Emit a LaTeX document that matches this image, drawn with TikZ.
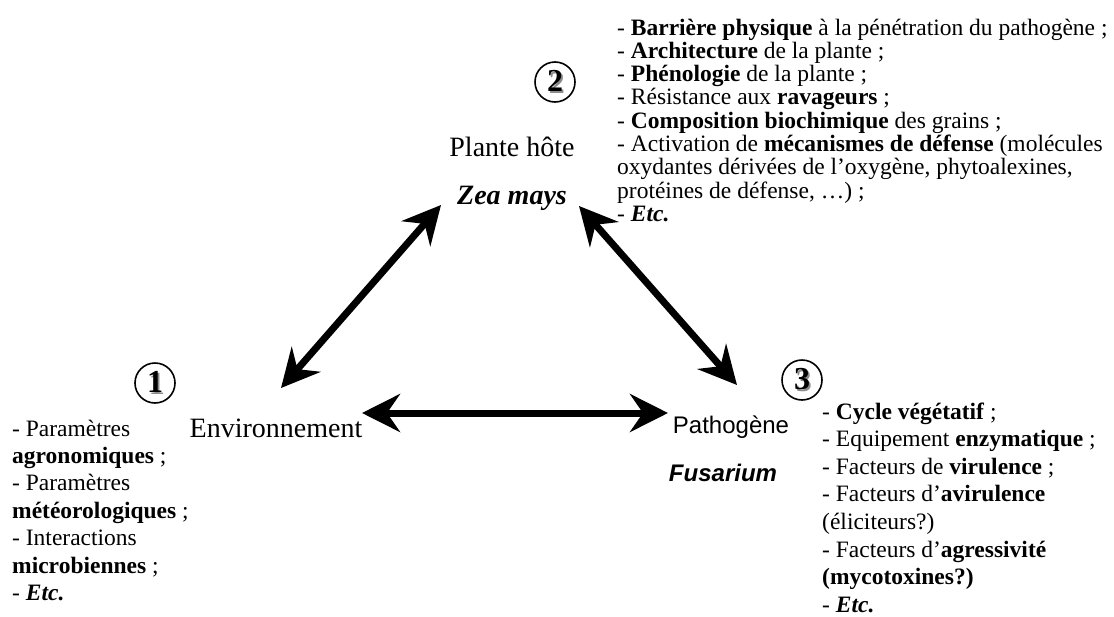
\documentclass[tikz,border=0pt]{standalone}
\usepackage{fontspec}
\setmainfont{Liberation Serif}
\setsansfont{Liberation Sans}
\usetikzlibrary{arrows.meta}

\tikzset{
  lst/.style={anchor=base west, inner sep=0pt, font=\fontsize{23.5}{24}\selectfont},
  lbl/.style={anchor=base, inner sep=0pt, font=\fontsize{28}{30}\selectfont},
  sanslbl/.style={anchor=base, inner sep=0pt, font=\sffamily\fontsize{24}{26}\selectfont},
  num/.style={circle, draw, line width=1.6pt, minimum size=40pt, inner sep=0pt,
    font=\bfseries\fontsize{32}{32}\selectfont},
  link/.style={line width=7pt, {Stealth[length=38pt,width=38pt,inset=13pt]}-{Stealth[length=38pt,width=38pt,inset=13pt]}},
}
% circled digit with a light grey shadow
\newcommand{\shadednum}[1]{\makebox[0pt][l]{\hspace{1.8pt}\raisebox{-1.8pt}{\textcolor{black!45}{#1}}}#1}

\begin{document}
\begin{tikzpicture}[x=1pt, y=-1pt]
  \useasboundingbox (0,0) rectangle (1114,616);

  % --- vertex labels ---
  \node[lbl] (plante) at (512,156) {Plante hôte};
  \node[lbl, font=\bfseries\itshape\fontsize{28}{30}\selectfont] (zea) at (512,204) {Zea mays};
  \node[lbl] (env) at (276,437) {Environnement};
  \node[sanslbl] (patho) at (731,433) {Pathogène};
  \node[sanslbl, font=\sffamily\bfseries\itshape\fontsize{24}{26}\selectfont] (fus) at (723,481) {Fusarium};

  % --- circled numbers ---
  \node[num] (n1) at (155,383) {\shadednum{1}};
  \node[num] (n2) at (555,82) {\shadednum{2}};
  \node[num] (n3) at (802,380) {\shadednum{3}};

  % --- arrow end points ---
  \coordinate (envUp) at (281,388);
  \coordinate (zeaLeft) at (441,205);
  \coordinate (zeaRight) at (579,206);
  \coordinate (pathoUp) at (737,385);
  \coordinate (envRight) at (362,413);
  \coordinate (pathoLeft) at (668,413);

  \draw[link] (envUp) -- (zeaLeft);
  \draw[link] (zeaRight) -- (pathoUp);
  \draw[link] (envRight) -- (pathoLeft);

  % --- host plant factors ---
  \node[lst] (h1) at (617,35.0) {- \textbf{Barrière physique} à la pénétration du pathogène ;};
  \node[lst] (h2) at (617,58.3) {- \textbf{Architecture} de la plante ;};
  \node[lst] (h3) at (617,81.6) {- \textbf{Phénologie} de la plante ;};
  \node[lst] (h4) at (617,104.9) {- Résistance aux \textbf{ravageurs} ;};
  \node[lst] (h5) at (617,128.2) {- \textbf{Composition biochimique} des grains ;};
  \node[lst] (h6) at (617,151.5) {- Activation de \textbf{mécanismes de défense} (molécules};
  \node[lst] (h7) at (617,174.8) {oxydantes dérivées de l’oxygène, phytoalexines,};
  \node[lst] (h8) at (617,198.1) {protéines de défense, …) ;};
  \node[lst] (h9) at (617,221.4) {- \textbf{\textit{Etc.}}};

  % --- environment factors ---
  \node[lst] (e1) at (12,436.0) {- Paramètres};
  \node[lst] (e2) at (12,463.4) {\textbf{agronomiques} ;};
  \node[lst] (e3) at (12,490.8) {- Paramètres};
  \node[lst] (e4) at (12,518.2) {\textbf{météorologiques} ;};
  \node[lst] (e5) at (12,545.6) {- Interactions};
  \node[lst] (e6) at (12,573.0) {\textbf{microbiennes} ;};
  \node[lst] (e7) at (12,600.4) {- \textbf{\textit{Etc.}}};

  % --- pathogen factors ---
  \node[lst] (p1) at (822,419.0) {- \textbf{Cycle végétatif} ;};
  \node[lst] (p2) at (822,446.6) {- Equipement \textbf{enzymatique} ;};
  \node[lst] (p3) at (822,474.2) {- Facteurs de \textbf{virulence} ;};
  \node[lst] (p4) at (822,501.8) {- Facteurs d’\textbf{avirulence}};
  \node[lst] (p5) at (822,529.4) {(éliciteurs?)};
  \node[lst] (p6) at (822,557.0) {- Facteurs d’\textbf{agressivité}};
  \node[lst] (p7) at (822,584.6) {\textbf{(mycotoxines?)}};
  \node[lst] (p8) at (822,612.2) {- \textbf{\textit{Etc.}}};
\end{tikzpicture}
\end{document}
